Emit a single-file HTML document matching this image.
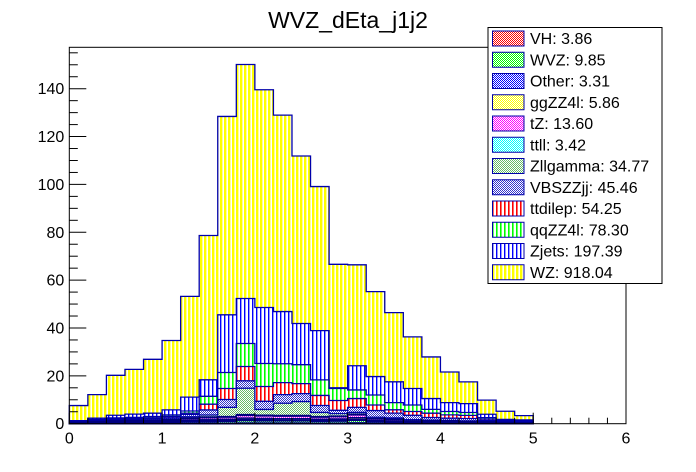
<!DOCTYPE html>
<html><head><meta charset="utf-8"><style>
html,body{margin:0;padding:0;background:#fff;}
svg{display:block;font-family:"Liberation Sans",Arial,sans-serif;}
</style></head><body>
<svg id="chart" width="696" height="472" viewBox="0 0 696 472" xmlns="http://www.w3.org/2000/svg">
<defs>
<pattern id="p-vert-yellow" width="4" height="4" patternUnits="userSpaceOnUse"><rect width="4" height="4" fill="#fff"/><rect x="0" width="2.4" height="4" fill="#ffff00"/></pattern>
<pattern id="p-vert-blue" width="4" height="4" patternUnits="userSpaceOnUse"><rect width="4" height="4" fill="#fff"/><rect x="0" width="1.4" height="4" fill="#0000ff"/></pattern>
<pattern id="p-vert-green" width="4" height="4" patternUnits="userSpaceOnUse"><rect width="4" height="4" fill="#fff"/><rect x="0" width="1.6" height="4" fill="#00ff00"/></pattern>
<pattern id="p-vert-red" width="4" height="4" patternUnits="userSpaceOnUse"><rect width="4" height="4" fill="#fff"/><rect x="0" width="1.6" height="4" fill="#ff0000"/></pattern>
<pattern id="p-chk-vbs" width="2" height="2" patternUnits="userSpaceOnUse"><rect width="2" height="2" fill="#fff"/><rect width="1" height="1" fill="#3333cc"/><rect x="1" y="1" width="1" height="1" fill="#3333cc"/></pattern>
<pattern id="p-chk-zllg" width="2" height="2" patternUnits="userSpaceOnUse"><rect width="2" height="2" fill="#fff"/><rect width="1" height="1" fill="#66bb66"/><rect x="1" y="1" width="1" height="1" fill="#66bb66"/></pattern>
<pattern id="p-chk-cyan" width="2" height="2" patternUnits="userSpaceOnUse"><rect width="2" height="2" fill="#fff"/><rect width="1" height="1" fill="#00ffff"/><rect x="1" y="1" width="1" height="1" fill="#00ffff"/></pattern>
<pattern id="p-chk-mag" width="2" height="2" patternUnits="userSpaceOnUse"><rect width="2" height="2" fill="#fff"/><rect width="1" height="1" fill="#ff00ff"/><rect x="1" y="1" width="1" height="1" fill="#ff00ff"/></pattern>
<pattern id="p-chk-yel" width="2" height="2" patternUnits="userSpaceOnUse"><rect width="2" height="2" fill="#fff"/><rect width="1" height="1" fill="#ffff00"/><rect x="1" y="1" width="1" height="1" fill="#ffff00"/></pattern>
<pattern id="p-chk-blue" width="2" height="2" patternUnits="userSpaceOnUse"><rect width="2" height="2" fill="#fff"/><rect width="1" height="1" fill="#0000ff"/><rect x="1" y="1" width="1" height="1" fill="#0000ff"/></pattern>
<pattern id="p-chk-green" width="2" height="2" patternUnits="userSpaceOnUse"><rect width="2" height="2" fill="#fff"/><rect width="1" height="1" fill="#00ff00"/><rect x="1" y="1" width="1" height="1" fill="#00ff00"/></pattern>
<pattern id="p-chk-red" width="2" height="2" patternUnits="userSpaceOnUse"><rect width="2" height="2" fill="#fff"/><rect width="1" height="1" fill="#ff0000"/><rect x="1" y="1" width="1" height="1" fill="#ff0000"/></pattern>
</defs>
<text x="348" y="28" font-size="23" text-anchor="middle">WVZ_dEta_j1j2</text>
<g id="bars"></g>
<g id="axes"></g>
<g id="legend"></g>
</svg>
<script>
const binEdgesStart = 0, binWidth = 0.2;
const VH      = [0.03,0.06,0.08,0.09,0.1,0.13,0.2,0.25,0.28,0.36,0.33,0.33,0.33,0.28,0.3,0.38,0.2,0.17,0.1,0.1,0.1,0.08,0.06,0.04,0.03];
const WVZ     = [0.08,0.15,0.2,0.22,0.25,0.32,0.5,0.6,0.7,0.9,0.8,0.8,0.8,0.7,0.75,0.95,0.5,0.42,0.25,0.25,0.25,0.2,0.15,0.1,0.08];
const Other   = [0.3,0.4,0.5,0.5,0.5,0.5,0.6,0.6,0.5,0.6,0.6,0.5,0.5,0.5,0.5,0.6,0.4,0.4,0.3,0.3,0.3,0.25,0.2,0.15,0.1];
const ggZZ4l  = [0.05,0.09,0.12,0.14,0.15,0.2,0.3,0.4,0.4,0.5,0.5,0.5,0.5,0.4,0.45,0.6,0.3,0.25,0.15,0.15,0.15,0.12,0.09,0.06,0.05];
const tZ      = [0.08,0.18,0.24,0.27,0.3,0.39,0.6,0.75,0.85,1.1,1.0,1.0,1.0,0.85,0.9,1.1,0.6,0.5,0.3,0.3,0.3,0.25,0.18,0.12,0.08];
const ttll    = [0.03,0.06,0.08,0.09,0.1,0.13,0.2,0.25,0.28,0.36,0.33,0.33,0.33,0.28,0.3,0.38,0.2,0.17,0.1,0.1,0.1,0.08,0.06,0.04,0.03];
const Zllgamma= [0.1,0.1,0.1,0.1,0.2,0.2,0.5,0.8,3.8,11.0,2.4,5.1,5.8,1.7,1.0,0.7,0.5,0.5,0.5,0.3,0.2,0.2,0.2,0.1,0.1];
const VBSZZjj = [0.2,0.3,0.4,0.4,0.5,0.6,1.0,2.1,3.3,3.1,3.4,3.6,3.3,2.9,1.4,2.1,2.8,2.0,1.8,1.1,0.9,1.0,0.4,0.2,0.2];
const ttdilep = [0.1,0.2,0.3,0.3,0.4,0.6,0.5,2.4,4.6,6.0,6.2,5.0,4.2,4.2,4.1,3.7,2.3,1.4,1.6,1.8,1.4,1.3,0.6,0.3,0.2];
const qqZZ4l  = [0.2,0.3,0.4,0.5,0.5,0.6,0.9,3.3,6.7,9.6,9.6,7.9,7.9,6.5,5.0,3.6,4.2,3.0,2.7,1.6,1.4,1.2,0.6,0.3,0.2];
const Zjets   = [0.1,0.5,1.1,1.4,1.4,2.1,5.8,6.9,24.1,18.8,23.4,21.8,17.2,20.6,0.3,10.1,7.7,8.7,6.9,4.5,3.7,3.7,1.4,0.4,0.5];
const WZ      = [6.3,9.8,16.7,18.7,22.5,29.0,42.1,60.3,82.9,97.8,91.0,82.1,70.0,60.2,51.6,42.2,35.5,28.9,21.6,17.4,12.8,9.1,5.9,3.4,1.8];
const xTicks = [0,1,2,3,4,5,6];
const yTicks = [0,20,40,60,80,100,120,140];
const legendLabels = ["VH: 3.86","WVZ: 9.85","Other: 3.31","ggZZ4l: 5.86","tZ: 13.60","ttll: 3.42","Zllgamma: 34.77","VBSZZjj: 45.46","ttdilep: 54.25","qqZZ4l: 78.30","Zjets: 197.39","WZ: 918.04"];

const NS="http://www.w3.org/2000/svg";
const X0=69.3,X1=626,Y0=423.7,Ytop=47.3;
const xs=v=>X0+(v/6)*(X1-X0);
const ys=v=>Y0-v*(Y0-88.7)/140;
function mk(t,a,p){const e=document.createElementNS(NS,t);for(const k in a)e.setAttribute(k,a[k]);p.appendChild(e);return e;}

const series=[
 {n:"vh",d:VH,f:"url(#p-chk-red)",s:"#000080"},
 {n:"wvz",d:WVZ,f:"url(#p-chk-green)",s:"#000080"},
 {n:"other",d:Other,f:"#000090",s:"#000080"},
 {n:"ggzz4l",d:ggZZ4l,f:"url(#p-chk-yel)",s:"#000080"},
 {n:"tz",d:tZ,f:"url(#p-chk-mag)",s:"#000080"},
 {n:"ttll",d:ttll,f:"url(#p-chk-cyan)",s:"#000080"},
 {n:"zllgamma",d:Zllgamma,f:"url(#p-chk-zllg)",s:"#0000aa"},
 {n:"vbszzjj",d:VBSZZjj,f:"url(#p-chk-vbs)",s:"#0000aa"},
 {n:"ttdilep",d:ttdilep,f:"url(#p-vert-red)",s:"#0000aa"},
 {n:"qqzz4l",d:qqZZ4l,f:"url(#p-vert-green)",s:"#0000aa"},
 {n:"zjets",d:Zjets,f:"url(#p-vert-blue)",s:"#0000aa"},
 {n:"wz",d:WZ,f:"url(#p-vert-yellow)",s:"#0000aa"}
];
const legendFills=["url(#p-chk-red)","url(#p-chk-green)","url(#p-chk-blue)","url(#p-chk-yel)","url(#p-chk-mag)","url(#p-chk-cyan)","url(#p-chk-zllg)","url(#p-chk-vbs)","url(#p-vert-red)","url(#p-vert-green)","url(#p-vert-blue)","url(#p-vert-yellow)"];
const bars=document.getElementById('bars');
const nb=WZ.length;
const cum=[];
let base=new Array(nb).fill(0);
series.forEach(se=>{const top=base.map((b,i)=>b+se.d[i]);cum.push({se,top});base=top;});
for(let k=cum.length-1;k>=0;k--){
 const c=cum[k];
 const g=mk('g',{},bars);
 
 
 let pts=`${xs(binEdgesStart)},${ys(0)} `;
 for(let i=0;i<nb;i++){const xa=xs(binEdgesStart+i*binWidth),xb=xs(binEdgesStart+(i+1)*binWidth);pts+=`${xa},${ys(c.top[i])} ${xb},${ys(c.top[i])} `;}
 pts+=`${xs(binEdgesStart+nb*binWidth)},${ys(0)}`;
 const p=mk('polygon',{points:pts,fill:c.se.f,stroke:c.se.s,'stroke-width':1.3},g);
 
 
}
const ax=document.getElementById('axes');
const fr=mk('rect',{x:X0,y:Ytop,width:X1-X0,height:Y0-Ytop,fill:'none',stroke:'#000','stroke-width':1},ax);


for(let v=0;v<=157;v+=5){const maj=v%20===0;mk('line',{x1:X0,x2:X0+(maj?17:8.5),y1:ys(v),y2:ys(v),stroke:'#000','stroke-width':1},ax);}
yTicks.forEach(v=>{const t=mk('text',{x:X0-5,y:ys(v)+5.5,'font-size':16,'text-anchor':'end'},ax);t.textContent=v;
 
 });
for(let i=0;i<=30;i++){const v=i*0.2;const maj=i%5===0;mk('line',{x1:xs(v),x2:xs(v),y1:Y0,y2:Y0-(maj?11:6),stroke:'#000','stroke-width':1},ax);}
xTicks.forEach(v=>{const t=mk('text',{x:xs(v),y:Y0+20,'font-size':16,'text-anchor':'middle'},ax);t.textContent=v;
 
 });
const lg=document.getElementById('legend');
const lb=mk('rect',{x:488,y:27.5,width:174,height:256,fill:'#fff',stroke:'#000','stroke-width':1},lg);


legendLabels.forEach((lab,i)=>{
 const se=series[i];
 const cy=38.5+i*21.25;
 const g=mk('g',{},lg);
 
 
 mk('rect',{x:492.5,y:cy-7.5,width:31.5,height:15,fill:legendFills[i],stroke:'#0000aa','stroke-width':1},g);
 const t=mk('text',{x:530,y:cy+5.5,'font-size':16},g);t.textContent=lab;
});
</script>
</body></html>
